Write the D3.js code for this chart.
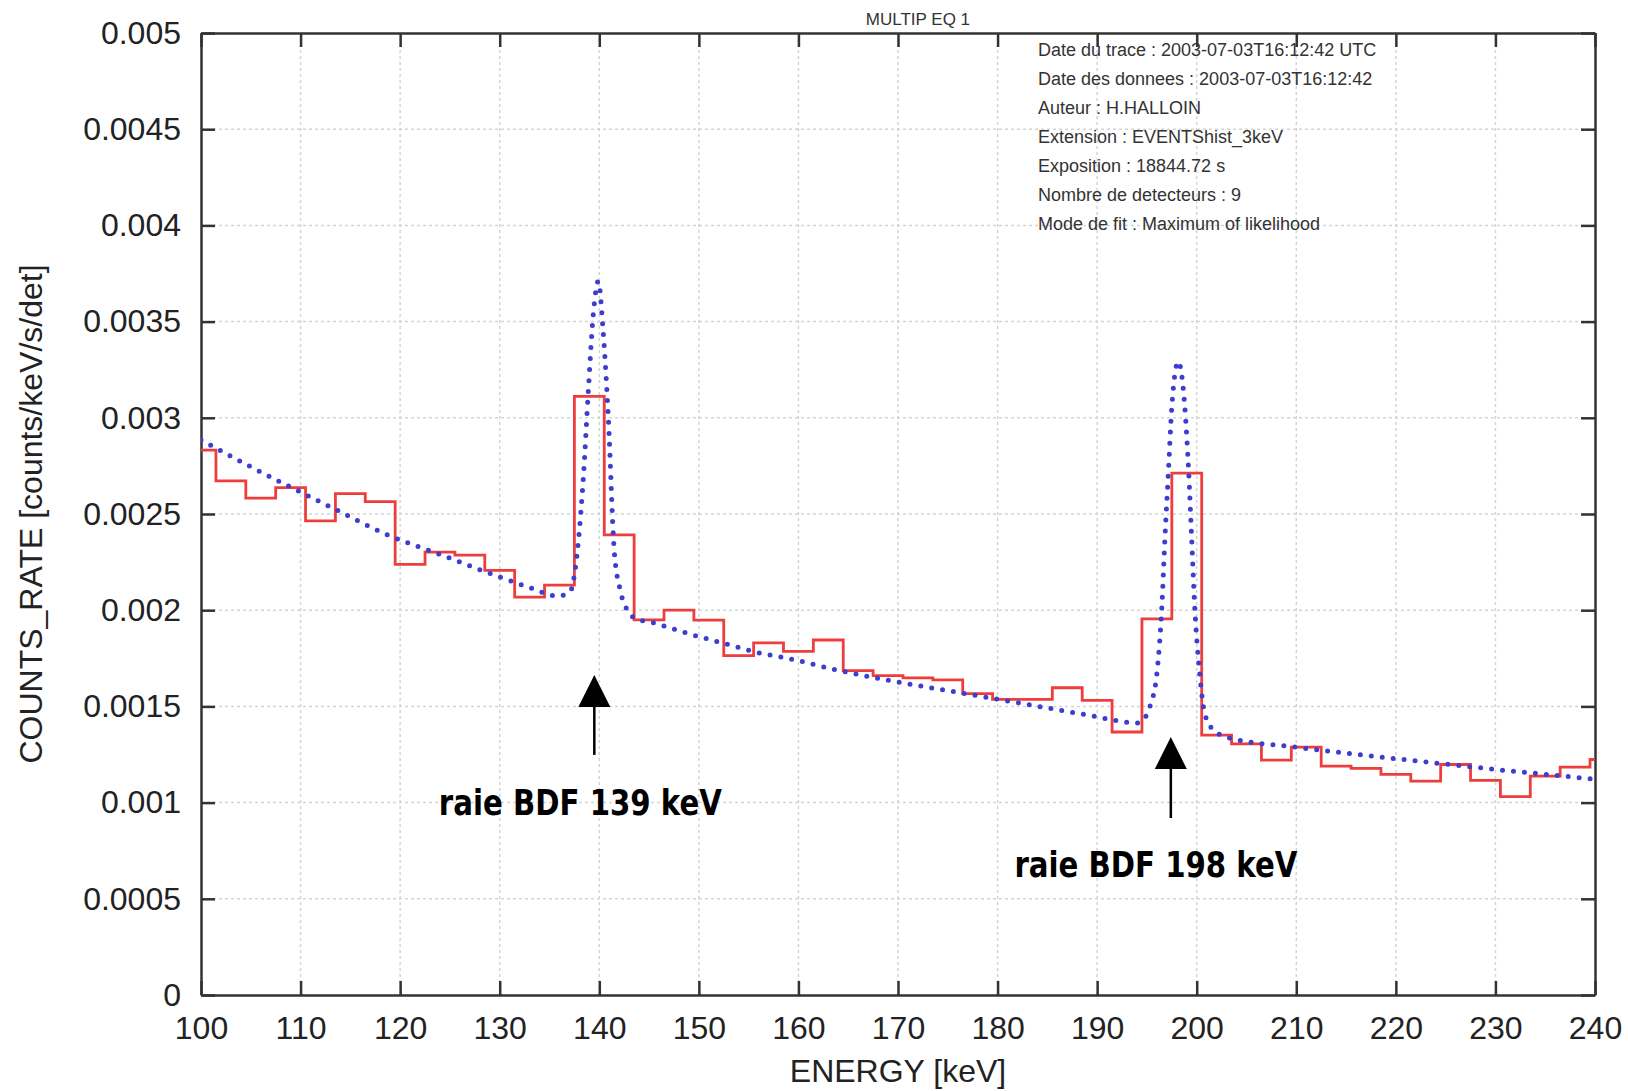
<!DOCTYPE html>
<html lang="en">
<head>
    <title>MULTIP EQ 1 - spectre</title>
    <meta charset="utf-8">
    <script src="https://d3js.org/d3.v7.min.js"></script>
    <style>
        body { margin: 0; background: #fff; }
        svg { display: block; font-family: "Liberation Sans", Arial, Helvetica, sans-serif; }
        .axis text { font-size: 32px; fill: #222; }
        .axis .domain { stroke: #333; stroke-width: 2.5; }
        .axis .tick line { stroke: #333; stroke-width: 2.5; }
        .grid line { stroke: #d4d4d4; stroke-width: 1.5; stroke-dasharray: 3,3; }
    </style>
</head>
<body>
<div id="chart"></div>

<script>
    // histogram bins (3 keV wide, centre energy) and measured rate
    const binEnergy = [100, 103, 106, 109, 112, 115, 118, 121, 124, 127, 130, 133, 136, 139, 142, 145,
        148, 151, 154, 157, 160, 163, 166, 169, 172, 175, 178, 181, 184, 187, 190, 193,
        196, 199, 202, 205, 208, 211, 214, 217, 220, 223, 226, 229, 232, 235, 238, 241];
    const binRate = [0.002832, 0.002672, 0.002582, 0.002637, 0.002464, 0.002606, 0.002564, 0.002238,
        0.002302, 0.002286, 0.002207, 0.002068, 0.00213, 0.003111, 0.002391, 0.00195,
        0.002, 0.001948, 0.001764, 0.00183, 0.001786, 0.001845, 0.001686, 0.00166,
        0.001648, 0.001638, 0.001566, 0.001536, 0.001536, 0.001597, 0.001531, 0.001367,
        0.001955, 0.002712, 0.001351, 0.001305, 0.001221, 0.001288, 0.00119, 0.001178,
        0.001147, 0.001112, 0.001198, 0.001116, 0.001031, 0.001138, 0.001184, 0.001224];
    const binWidth = 3;

    // fitted model (blue dots)
    const fitEnergy = [100, 104.2, 108.3, 113.5, 118.6, 124, 128.2, 132.9, 135.9, 137.1, 137.6, 137.9,
        138.4, 138.9, 139.4, 139.9, 140.4, 140.9, 141.5, 142.1, 142.8, 143.6, 145.6, 149.1,
        152.5, 155.8, 159.2, 163.8, 169.2, 175.9, 182.6, 189.3, 194, 194.6, 195.3, 196,
        196.5, 196.8, 197.15, 197.5, 198.15, 198.8, 199.2, 199.5, 199.8, 200.3, 200.8, 201.7,
        203.3, 210, 216.7, 223.4, 230.1, 236.8, 240];
    const fitRate = [0.002885, 0.002767, 0.002658, 0.002524, 0.002394, 0.00229, 0.002207, 0.00212,
        0.002073, 0.002099, 0.00222, 0.002359, 0.002689, 0.00314, 0.00354, 0.00371,
        0.00344, 0.00301, 0.00231, 0.002105, 0.002001, 0.001958, 0.001932, 0.001876,
        0.001828, 0.001781, 0.001747, 0.00169, 0.001634, 0.001574, 0.001514, 0.001453,
        0.001414, 0.001429, 0.001499, 0.001672, 0.002018, 0.002365, 0.002712, 0.003058,
        0.003292, 0.003058, 0.002712, 0.002365, 0.002018, 0.001672, 0.001464, 0.001377,
        0.001336, 0.001288, 0.001247, 0.001209, 0.001172, 0.001138, 0.001121];

    const xTicks = [100, 110, 120, 130, 140, 150, 160, 170, 180, 190, 200, 210, 220, 230, 240];
    const yTicks = [0, 0.0005, 0.001, 0.0015, 0.002, 0.0025, 0.003, 0.0035, 0.004, 0.0045, 0.005];
    const yTickLabels = ["0", "0.0005", "0.001", "0.0015", "0.002", "0.0025", "0.003", "0.0035", "0.004", "0.0045", "0.005"];

    const infoLines = [
        "Date du trace : 2003-07-03T16:12:42 UTC",
        "Date des donnees : 2003-07-03T16:12:42",
        "Auteur : H.HALLOIN",
        "Extension : EVENTShist_3keV",
        "Exposition : 18844.72 s",
        "Nombre de detecteurs : 9",
        "Mode de fit : Maximum of likelihood"
    ];

    // line annotations: arrow position, tip and tail, then label position
    const arrowEnergy = [139.5, 197.4];
    const arrowTip = [0.001663, 0.001341];
    const arrowTail = [0.001248, 0.00092];
    const labelText = ["raie BDF 139 keV", "raie BDF 198 keV"];
    const labelEnergy = [138.1, 195.9];
    const labelRate = [0.001004, 0.000681];

    const width = 1628, height = 1091;
    const margin = {top: 33, right: 33, bottom: 96, left: 201};

    const svg = d3.select("#chart").append("svg")
        .attr("width", width)
        .attr("height", height);

    const x = d3.scaleLinear().domain([100, 240]).range([margin.left, width - margin.right]);
    const y = d3.scaleLinear().domain([0, 0.005]).range([height - margin.bottom, margin.top]);

    svg.append("defs").append("clipPath").attr("id", "plotclip")
        .append("rect")
        .attr("x", margin.left).attr("y", margin.top)
        .attr("width", x.range()[1] - margin.left)
        .attr("height", y.range()[0] - margin.top);

    // grid
    const grid = svg.append("g").attr("class", "grid");
    grid.selectAll("line.v").data(xTicks.slice(1, -1)).join("line").attr("class", "v")
        .attr("x1", d => x(d)).attr("x2", d => x(d))
        .attr("y1", y(0)).attr("y2", y(0.005));
    grid.selectAll("line.h").data(yTicks.slice(1, -1)).join("line").attr("class", "h")
        .attr("x1", x(100)).attr("x2", x(240))
        .attr("y1", d => y(d)).attr("y2", d => y(d));

    // axes, ticks pointing inward on the four sides
    const tickLen = 14;
    svg.append("g").attr("class", "axis")
        .attr("transform", `translate(0,${y(0)})`)
        .call(d3.axisBottom(x).tickValues(xTicks).tickFormat(d3.format("d"))
            .tickSizeInner(-tickLen).tickSizeOuter(0).tickPadding(21));
    svg.append("g").attr("class", "axis")
        .attr("transform", `translate(0,${y(0.005)})`)
        .call(d3.axisTop(x).tickValues(xTicks).tickFormat("")
            .tickSizeInner(-tickLen).tickSizeOuter(0));
    svg.append("g").attr("class", "axis")
        .attr("transform", `translate(${x(100)},0)`)
        .call(d3.axisLeft(y).tickValues(yTicks).tickFormat((d, i) => yTickLabels[i])
            .tickSizeInner(-tickLen).tickSizeOuter(0).tickPadding(20));
    svg.append("g").attr("class", "axis")
        .attr("transform", `translate(${x(240)},0)`)
        .call(d3.axisRight(y).tickValues(yTicks).tickFormat("")
            .tickSizeInner(-tickLen).tickSizeOuter(0));

    // measured histogram as steps
    const stepPts = binEnergy.map((e, i) => [e - binWidth / 2, binRate[i]]);
    stepPts.push([binEnergy[binEnergy.length - 1] + binWidth / 2, binRate[binRate.length - 1]]);
    const stepLine = d3.line().curve(d3.curveStepAfter).x(d => x(d[0])).y(d => y(d[1]));

    const plot = svg.append("g").attr("clip-path", "url(#plotclip)");
    plot.append("path")
        .attr("d", stepLine(stepPts))
        .attr("fill", "none")
        .attr("stroke", "#ee3d3d")
        .attr("stroke-width", 2.8);

    // model fit, dotted blue
    const fitLine = d3.line().curve(d3.curveMonotoneX)
        .x((d, i) => x(fitEnergy[i]))
        .y(d => y(d));
    plot.append("path")
        .attr("d", fitLine(fitRate))
        .attr("fill", "none")
        .attr("stroke", "#3d3dcf")
        .attr("stroke-width", 5)
        .attr("stroke-linecap", "round")
        .attr("stroke-dasharray", "0,11");

    // titles
    svg.append("text")
        .attr("x", x(172)).attr("y", 25)
        .attr("text-anchor", "middle")
        .attr("font-size", 17).attr("fill", "#333")
        .text("MULTIP EQ 1");

    svg.append("text")
        .attr("x", (x(100) + x(240)) / 2).attr("y", 1082)
        .attr("text-anchor", "middle")
        .attr("font-size", 32).attr("fill", "#222")
        .text("ENERGY [keV]");

    svg.append("text")
        .attr("transform", `translate(31,${(y(0) + y(0.005)) / 2}) rotate(-90)`)
        .attr("text-anchor", "middle")
        .attr("dy", "0.35em")
        .attr("font-size", 32).attr("fill", "#222")
        .text("COUNTS_RATE [counts/keV/s/det]");

    // info block in the upper right
    svg.append("g").selectAll("text").data(infoLines).join("text")
        .attr("x", 1038)
        .attr("y", (d, i) => 56 + i * 29)
        .attr("font-size", 18).attr("fill", "#333")
        .text(d => d);

    // arrows + labels
    const ann = svg.append("g");
    arrowEnergy.forEach((e, i) => {
        const ax = x(e), tip = y(arrowTip[i]), tail = y(arrowTail[i]);
        ann.append("line")
            .attr("x1", ax).attr("x2", ax)
            .attr("y1", tip + 30).attr("y2", tail)
            .attr("stroke", "#000").attr("stroke-width", 2.5);
        ann.append("path")
            .attr("d", `M${ax},${tip} L${ax - 16},${tip + 32} L${ax + 16},${tip + 32} Z`)
            .attr("fill", "#000");
        ann.append("text")
            .attr("x", x(labelEnergy[i]))
            .attr("y", y(labelRate[i]) + 13)
            .attr("text-anchor", "middle")
            .attr("font-family", "'DejaVu Sans Condensed', 'DejaVu Sans', sans-serif")
            .attr("font-weight", "bold")
            .attr("font-size", 36)
            .attr("textLength", 283)
            .attr("lengthAdjust", "spacingAndGlyphs")
            .attr("fill", "#000")
            .text(labelText[i]);
    });
</script>
</body>
</html>
